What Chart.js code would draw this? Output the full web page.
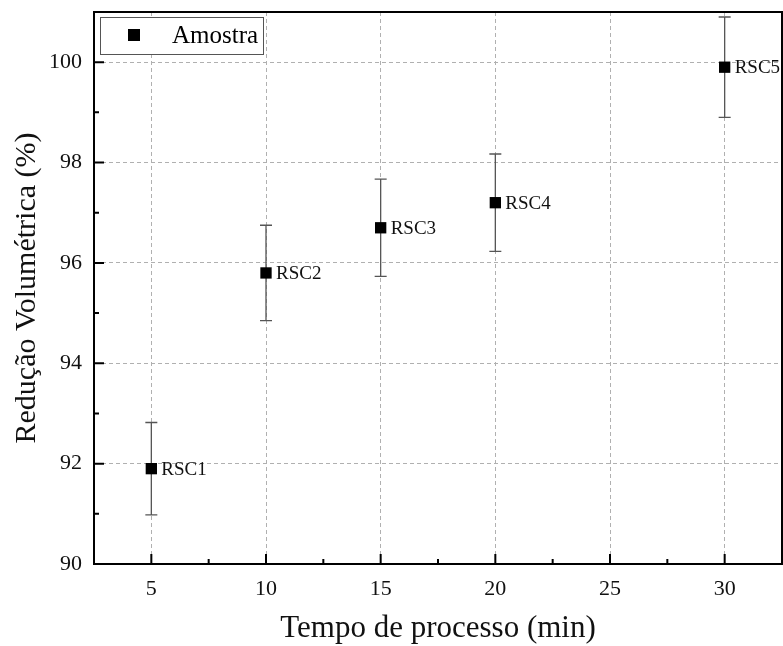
<!DOCTYPE html>
<html>
<head>
<meta charset="utf-8">
<script src="https://cdn.jsdelivr.net/npm/chart.js@4.4.0/dist/chart.umd.min.js"></script>
<style>
  html, body { margin: 0; padding: 0; background: #fff; overflow: hidden; }
  #wrap { width: 783px; height: 646px; }
  canvas { display: block; }
</style>
</head>
<body>
<div id="wrap"><canvas id="reducaoChart"></canvas></div>
<script>
// tempo de processo (min) x reducao volumetrica (%)
var tempos = [5, 10, 15, 20, 30];
var reducao = [91.9, 95.8, 96.7, 97.2, 99.9];
var desvio = [0.92, 0.95, 0.97, 0.97, 1.0];
var amostras = ['RSC1', 'RSC2', 'RSC3', 'RSC4', 'RSC5'];
var xTicks = [5, 10, 15, 20, 25, 30];
var yTicks = [90, 92, 94, 96, 98, 100];

var serif = '"Liberation Serif", "DejaVu Serif", serif';

// barras de erro, rotulos, ticks internos, moldura e legenda
var extras = {
    id: 'extras',
    beforeDatasetsDraw: function(chart) {
        var ctx = chart.ctx, xs = chart.scales.x, ys = chart.scales.y;
        ctx.save();
        ctx.strokeStyle = '#555';
        ctx.lineWidth = 1.3;
        for (var i = 0; i < tempos.length; i++) {
            var px = xs.getPixelForValue(tempos[i]);
            var top = ys.getPixelForValue(reducao[i] + desvio[i]);
            var bot = ys.getPixelForValue(reducao[i] - desvio[i]);
            ctx.beginPath();
            ctx.moveTo(px, top); ctx.lineTo(px, bot);
            ctx.moveTo(px - 6, top); ctx.lineTo(px + 6, top);
            ctx.moveTo(px - 6, bot); ctx.lineTo(px + 6, bot);
            ctx.stroke();
        }
        ctx.restore();
    },
    afterDatasetsDraw: function(chart) {
        var ctx = chart.ctx, xs = chart.scales.x, ys = chart.scales.y, a = chart.chartArea;
        ctx.save();
        // rotulos das amostras
        ctx.fillStyle = '#111';
        ctx.font = '19px ' + serif;
        ctx.textBaseline = 'middle';
        for (var i = 0; i < tempos.length; i++) {
            ctx.fillText(amostras[i], xs.getPixelForValue(tempos[i]) + 10, ys.getPixelForValue(reducao[i]) + 1);
        }
        // moldura superior e direita
        ctx.strokeStyle = '#000';
        ctx.lineWidth = 2;
        ctx.beginPath();
        ctx.moveTo(a.left, a.top); ctx.lineTo(a.right, a.top); ctx.lineTo(a.right, a.bottom);
        ctx.stroke();
        // ticks internos (maiores e menores)
        ctx.beginPath();
        for (var v = 2.5; v < xs.max; v += 2.5) {
            var x = xs.getPixelForValue(v);
            var len = (v % 5 === 0) ? 10 : 5;
            ctx.moveTo(x, a.bottom); ctx.lineTo(x, a.bottom - len);
        }
        for (var w = 91; w <= ys.max; w += 1) {
            var y = ys.getPixelForValue(w);
            var l2 = (w % 2 === 0) ? 10 : 5;
            ctx.moveTo(a.left, y); ctx.lineTo(a.left + l2, y);
        }
        ctx.stroke();
        // legenda
        var bx = a.left + 6, by = a.top + 5, bw = 163, bh = 37;
        ctx.fillStyle = '#fff';
        ctx.fillRect(bx, by, bw, bh);
        ctx.strokeStyle = '#555';
        ctx.lineWidth = 1;
        ctx.strokeRect(bx + 0.5, by + 0.5, bw, bh);
        ctx.fillStyle = '#000';
        ctx.fillRect(bx + 28, by + 12, 12, 12);
        ctx.font = '25px ' + serif;
        ctx.fillText(chart.data.datasets[0].label, bx + 72, by + bh / 2 + 1);
        ctx.restore();
    }
};

var pontos = tempos.map(function(t, i) { return { x: t, y: reducao[i] }; });

var gradeOpts = { color: '#b0b0b0', drawTicks: false, lineWidth: 1 };

new Chart(document.getElementById('reducaoChart'), {
    type: 'scatter',
    data: {
        datasets: [{
            label: 'Amostra',
            data: pontos,
            pointStyle: 'rect',
            pointRadius: 8,
            pointHoverRadius: 8,
            backgroundColor: '#000',
            borderColor: '#000',
            borderWidth: 0
        }]
    },
    options: {
        responsive: true,
        maintainAspectRatio: false,
        animation: false,
        events: [],
        layout: { autoPadding: false, padding: { top: 12, right: 1, left: 0, bottom: 0 } },
        plugins: { legend: { display: false }, tooltip: { enabled: false } },
        scales: {
            x: {
                type: 'linear',
                min: 2.5,
                max: 32.5,
                afterBuildTicks: function(scale) {
                    scale.ticks = xTicks.map(function(v) { return { value: v }; });
                },
                afterFit: function(scale) {
                    scale.height = 82;
                    scale.paddingLeft = 0;
                    scale.paddingRight = 0;
                },
                grid: gradeOpts,
                border: { color: '#000', width: 2, dash: [4, 3] },
                ticks: { color: '#111', padding: 12, font: { family: serif, size: 22 } },
                title: {
                    display: true,
                    text: 'Tempo de processo (min)',
                    color: '#111',
                    padding: { top: 4, bottom: 0 },
                    font: { family: serif, size: 31, lineHeight: 1.1 }
                }
            },
            y: {
                min: 90,
                max: 101,
                afterBuildTicks: function(scale) {
                    scale.ticks = yTicks.map(function(v) { return { value: v }; });
                },
                afterFit: function(scale) {
                    scale.width = 94;
                    scale.paddingTop = 0;
                    scale.paddingBottom = 0;
                },
                grid: gradeOpts,
                border: { color: '#000', width: 2, dash: [4, 3] },
                ticks: { color: '#111', padding: 12, font: { family: serif, size: 22 } },
                title: {
                    display: true,
                    text: 'Redução Volumétrica (%)',
                    color: '#111',
                    padding: { top: 11, bottom: 4 },
                    font: { family: serif, size: 30, lineHeight: 1.1 }
                }
            }
        }
    },
    plugins: [extras]
});
</script>
</body>
</html>
